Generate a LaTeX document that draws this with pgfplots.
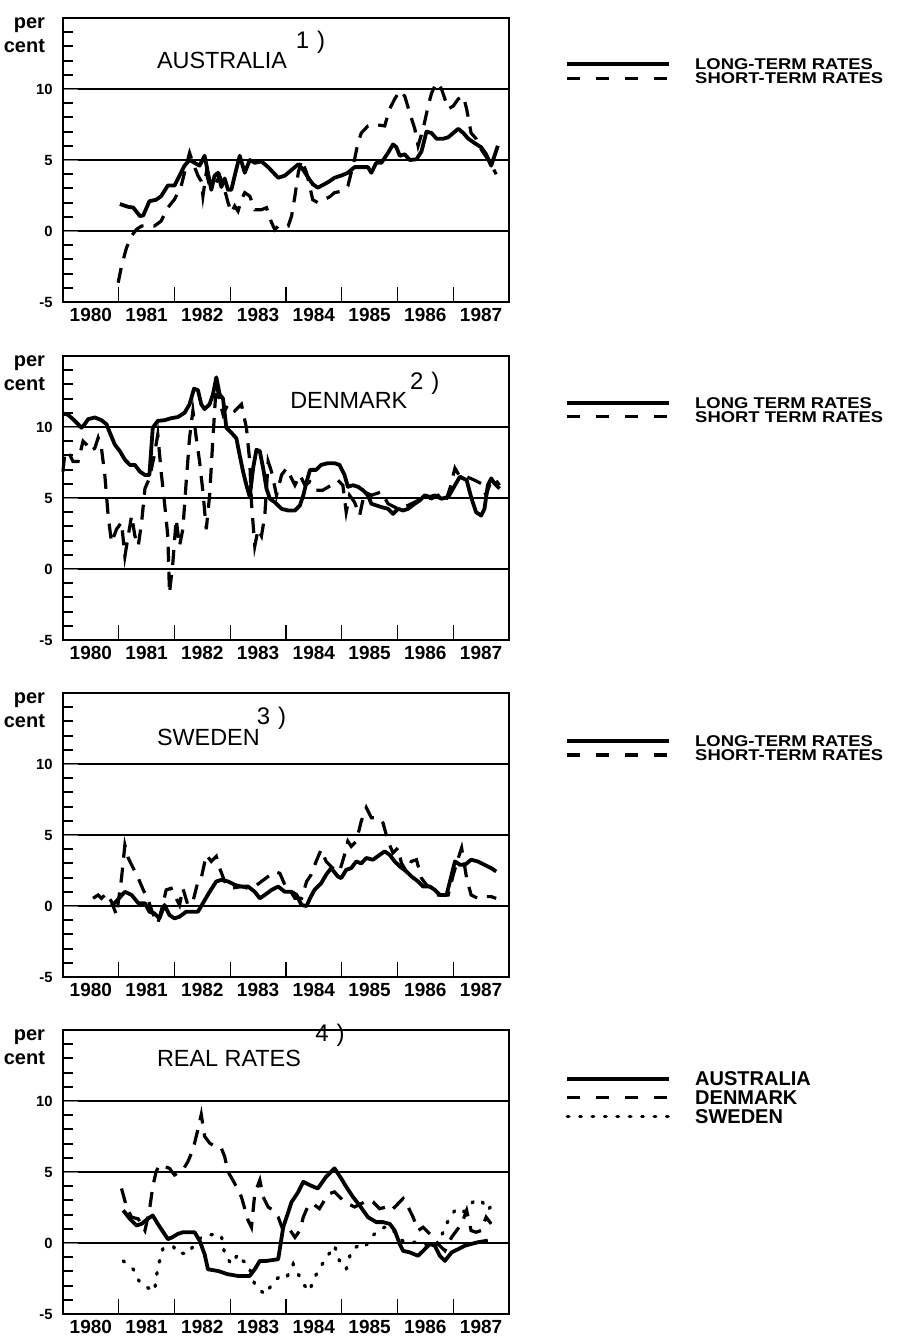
\documentclass[border=0pt]{standalone}
\usepackage{fontspec}
\setmainfont{Liberation Sans}
\usepackage{graphicx}
\usepackage{pgfplots}
\pgfplotsset{compat=1.18}

\pgfplotsset{
  panel/.style={
    scale only axis, width=223pt, height=142pt,
    xmin=1980, xmax=1988, ymin=-5, ymax=15,
    clip=false,
    axis line style={line width=1pt},
    xtick={1980,...,1988}, x tick label as interval,
    xticklabels={1980,1981,1982,1983,1984,1985,1986,1987},
    ytick={-5,0,5,10}, yticklabels={-5,0,5,10},
    minor ytick={-4,-3,-2,-1,1,2,3,4,6,7,8,9,11,12,13,14},
    tick align=inside, xtick pos=bottom, ytick pos=left,
    major tick length=7.5pt, minor tick length=5pt,
    every major x tick/.append style={line width=0.7pt, black},
    every minor y tick/.append style={line width=1pt, black},
    ymajorgrids, major grid style={line width=1.2pt, black},
    xticklabel style={font=\fontsize{9.5}{9.5}\selectfont\bfseries, inner sep=0pt, yshift=-3pt},
    yticklabel style={font=\fontsize{7.4}{7.4}\selectfont\bfseries, inner sep=0pt, xshift=-5pt},
    legend cell align=left,
  },
  leg/.style n args={4}{legend style={at={(1.1256,#1)}, anchor=north west,
    draw=none, fill=none, inner sep=0pt, row sep=#2, column sep=12pt,
    font=\fontsize{#3}{#3}\selectfont\bfseries,
    nodes={inner sep=0pt, anchor=west, text height=#4, text depth=0pt}}},
  legend image code/.code={\draw[#1] (0pt,0pt) -- (51pt,0pt);},
  solidl/.style={black, line width=1.9pt, line join=round},
  dashl/.style={black, line width=1.6pt, dash pattern=on 7.5pt off 5pt,
    legend image code/.code={\draw[##1, dash pattern=on 6.5pt off 8pt] (0pt,0pt) -- (51pt,0pt);}},
  dotl/.style={black, line width=1.7pt, line cap=round, dash pattern=on 0.8pt off 5.4pt},
}
\newcommand{\st}[1]{\scalebox{1.18}[1]{#1}}
\newcommand{\percent}{%
  \node[anchor=base east, xshift=-5.5pt, yshift=-5pt, font=\fontsize{10}{10}\selectfont\bfseries] at (rel axis cs:0,1) {per};
  \node[anchor=base east, xshift=-5.5pt, yshift=-17pt, font=\fontsize{10}{10}\selectfont\bfseries] at (rel axis cs:0,1) {cent};
}
\newcommand{\ttl}[2]{\node[anchor=west, font=\fontsize{11.7}{11.7}\selectfont] at (axis cs:#1) {#2};}
\newcommand{\note}[2]{\node[anchor=west, font=\fontsize{12}{12}\selectfont] at (axis cs:#1) {#2};}

\begin{document}
\begin{tikzpicture}
\path[use as bounding box] (0,0) rectangle (450pt,-669pt);

% ---------------- Australia
\begin{axis}[panel, at={(31.5pt,-151pt)}, anchor=south west, leg={0.858}{1.4pt}{7.8}{5.6pt}]
\addplot[solidl] table {
1981.02 1.9
1981.17 1.7
1981.26 1.65
1981.38 1.05
1981.44 1.1
1981.55 2.1
1981.67 2.2
1981.76 2.45
1981.88 3.2
1982.00 3.2
1982.09 3.9
1982.18 4.6
1982.27 5.0
1982.36 4.8
1982.45 4.6
1982.54 5.3
1982.60 4.1
1982.66 2.9
1982.72 3.9
1982.78 4.1
1982.84 3.1
1982.90 3.7
1982.96 2.9
1983.02 2.9
1983.08 3.9
1983.17 5.3
1983.26 4.1
1983.35 5.0
1983.44 4.8
1983.56 4.9
1983.68 4.5
1983.86 3.75
1983.98 3.9
1984.10 4.3
1984.22 4.7
1984.31 4.3
1984.40 3.75
1984.48 3.3
1984.57 3.05
1984.69 3.3
1984.78 3.5
1984.87 3.75
1984.99 3.9
1985.11 4.1
1985.23 4.5
1985.35 4.5
1985.47 4.5
1985.53 4.1
1985.62 4.8
1985.71 4.8
1985.83 5.5
1985.92 6.1
1985.98 5.9
1986.04 5.3
1986.13 5.4
1986.22 5.0
1986.34 5.05
1986.43 5.6
1986.52 7.0
1986.61 6.9
1986.70 6.5
1986.82 6.5
1986.91 6.6
1987.00 6.9
1987.09 7.2
1987.18 6.9
1987.27 6.5
1987.38 6.2
1987.50 5.9
1987.59 5.4
1987.68 4.6
1987.74 5.3
1987.80 6.0
};
\addplot[dashl] table {
1980.99 -3.64
1981.05 -2.46
1981.14 -1.17
1981.23 -0.35
1981.32 0.12
1981.41 0.35
1981.52 0.4
1981.64 0.35
1981.76 0.7
1981.88 1.64
1982.00 2.23
1982.12 3.17
1982.21 4.58
1982.27 5.5
1982.33 4.8
1982.42 3.9
1982.48 3.5
1982.51 2.46
1982.57 4.1
1982.63 3.2
1982.72 3.2
1982.81 3.9
1982.90 2.9
1982.96 2.0
1983.02 1.3
1983.08 1.76
1983.14 1.4
1983.20 2.2
1983.26 2.7
1983.35 2.46
1983.44 1.5
1983.56 1.5
1983.65 1.64
1983.74 0.6
1983.80 0.1
1983.86 0.35
1984.04 0.35
1984.10 1.05
1984.16 2.46
1984.22 4.1
1984.28 5.0
1984.37 4.1
1984.48 2.2
1984.57 2.0
1984.69 2.23
1984.78 2.4
1984.87 2.7
1984.99 2.8
1985.11 3.17
1985.23 5.05
1985.29 6.2
1985.35 6.9
1985.47 7.4
1985.59 7.5
1985.77 7.4
1985.86 8.6
1985.95 9.3
1986.04 9.86
1986.13 9.5
1986.22 8.3
1986.31 7.2
1986.37 6.0
1986.46 7.2
1986.55 8.8
1986.61 9.7
1986.70 10.45
1986.79 10.0
1986.91 8.6
1987.00 8.8
1987.09 9.3
1987.18 9.5
1987.24 8.6
1987.32 6.9
1987.41 6.5
1987.50 5.75
1987.62 5.05
1987.71 4.46
1987.77 4.0
};
\legend{\st{LONG-TERM RATES}, \st{SHORT-TERM RATES}}
\percent
\ttl{1981.56,12}{AUSTRALIA}
\note{1984.05,13.3}{1\,\,)}
\end{axis}

% ---------------- Denmark
\begin{axis}[panel, at={(31.5pt,-320pt)}, anchor=south west, leg={0.856}{1.2pt}{7.8}{5.6pt}]
\addplot[solidl] table {
1980.00 10.95
1980.09 10.86
1980.18 10.55
1980.27 10.2
1980.33 9.95
1980.39 10.2
1980.45 10.55
1980.57 10.67
1980.69 10.48
1980.78 10.2
1980.84 9.6
1980.93 8.76
1981.02 8.3
1981.11 7.7
1981.20 7.33
1981.29 7.33
1981.38 6.86
1981.47 6.62
1981.55 6.62
1981.61 9.95
1981.70 10.43
1981.82 10.48
1981.94 10.62
1982.06 10.7
1982.18 11.0
1982.27 11.6
1982.35 12.7
1982.42 12.6
1982.48 11.6
1982.54 11.26
1982.63 11.6
1982.69 12.3
1982.75 13.5
1982.81 12.3
1982.87 12.0
1982.93 9.95
1983.02 9.6
1983.11 9.2
1983.17 8.0
1983.23 6.86
1983.29 5.9
1983.35 5.07
1983.41 7.1
1983.47 8.4
1983.53 8.3
1983.59 7.1
1983.65 5.67
1983.71 4.95
1983.80 4.7
1983.92 4.24
1984.04 4.12
1984.16 4.12
1984.25 4.48
1984.31 5.19
1984.37 6.14
1984.43 6.98
1984.54 6.98
1984.63 7.33
1984.75 7.45
1984.87 7.45
1984.96 7.33
1985.05 6.62
1985.11 5.79
1985.20 5.9
1985.29 5.79
1985.38 5.55
1985.47 5.19
1985.53 4.6
1985.62 4.48
1985.71 4.36
1985.83 4.24
1985.92 3.88
1986.01 4.24
1986.10 4.12
1986.19 4.24
1986.31 4.6
1986.40 4.83
1986.49 5.19
1986.58 5.07
1986.67 5.19
1986.79 4.95
1986.91 5.07
1987.03 5.9
1987.12 6.5
1987.24 6.26
1987.32 5.07
1987.41 4.0
1987.50 3.76
1987.56 4.24
1987.62 5.9
1987.68 6.38
1987.74 6.02
1987.83 5.67
};
\addplot[dashl] table {
1980.00 6.86
1980.03 8.05
1980.09 8.3
1980.18 7.57
1980.27 7.57
1980.36 9.0
1980.42 8.76
1980.48 8.3
1980.57 8.5
1980.63 9.24
1980.69 8.5
1980.75 6.62
1980.81 3.76
1980.87 1.86
1980.96 2.8
1981.05 3.29
1981.11 0.9
1981.17 2.33
1981.23 3.76
1981.29 2.33
1981.35 1.62
1981.41 3.29
1981.47 5.67
1981.55 6.38
1981.64 8.05
1981.70 9.48
1981.76 6.86
1981.82 4.7
1981.88 2.33
1981.91 -1.71
1981.97 0.43
1982.03 3.52
1982.09 1.62
1982.15 2.8
1982.21 6.14
1982.27 9.24
1982.33 11.14
1982.39 9.24
1982.45 7.57
1982.51 5.43
1982.57 2.8
1982.63 5.19
1982.69 9.24
1982.75 13.05
1982.81 11.86
1982.87 10.9
1982.96 11.6
1983.08 11.14
1983.20 11.6
1983.29 9.95
1983.35 7.57
1983.38 4.7
1983.44 1.62
1983.50 2.8
1983.56 2.33
1983.62 3.76
1983.68 7.57
1983.74 6.86
1983.83 5.19
1983.92 6.62
1984.01 7.1
1984.07 6.62
1984.16 5.9
1984.25 6.62
1984.34 5.9
1984.43 6.14
1984.54 5.55
1984.66 5.55
1984.81 5.9
1984.93 6.26
1985.02 5.9
1985.08 4.0
1985.14 5.19
1985.23 4.7
1985.32 3.76
1985.41 5.43
1985.53 5.19
1985.71 5.43
1985.83 4.6
1986.01 4.24
1986.19 4.48
1986.37 4.83
1986.49 5.07
1986.61 4.95
1986.73 5.19
1986.85 4.6
1986.94 5.67
1987.03 7.1
1987.12 6.5
1987.24 6.5
1987.38 6.26
1987.50 6.02
1987.59 5.19
1987.65 5.9
1987.74 6.38
1987.83 5.9
};
\legend{\st{LONG TERM RATES}, \st{SHORT TERM RATES}}
\percent
\ttl{1983.95,11.9}{DENMARK}
\note{1986.1,13.1}{2\,\,)}
\end{axis}

% ---------------- Sweden
\begin{axis}[panel, at={(31.5pt,-488.5pt)}, anchor=south west, leg={0.851}{1.2pt}{7.8}{5.6pt}]
\addplot[solidl] table {
1980.87 0
1980.96 0.35
1981.11 1.0
1981.23 0.78
1981.35 0.2
1981.47 0.2
1981.55 -0.4
1981.64 -0.52
1981.73 -0.87
1981.82 0.07
1981.91 -0.64
1982.00 -0.87
1982.09 -0.75
1982.21 -0.4
1982.42 -0.4
1982.51 0.2
1982.63 1.0
1982.75 1.73
1982.84 1.84
1982.96 1.73
1983.08 1.49
1983.20 1.37
1983.32 1.37
1983.44 1.0
1983.53 0.54
1983.62 0.78
1983.74 1.13
1983.86 1.37
1983.98 1.0
1984.10 1.0
1984.19 0.78
1984.28 0.07
1984.37 0
1984.43 0.54
1984.51 1.13
1984.63 1.6
1984.72 2.2
1984.81 2.67
1984.93 2.08
1984.99 1.96
1985.08 2.55
1985.17 2.67
1985.26 3.14
1985.35 3.0
1985.44 3.38
1985.56 3.26
1985.68 3.6
1985.77 3.85
1985.86 3.6
1985.95 3.14
1986.04 2.79
1986.16 2.43
1986.25 2.08
1986.37 1.73
1986.46 1.37
1986.58 1.37
1986.67 1.13
1986.76 0.78
1986.88 0.78
1986.94 1.73
1987.03 3.14
1987.12 2.9
1987.21 2.9
1987.32 3.26
1987.44 3.14
1987.56 2.9
1987.68 2.67
1987.77 2.43
};
\addplot[dashl] table {
1980.54 0.54
1980.63 0.78
1980.69 0.54
1980.78 0.9
1980.87 0.3
1980.96 -0.64
1981.05 1.96
1981.11 4.3
1981.17 3.38
1981.26 2.67
1981.35 1.96
1981.44 1.13
1981.52 0.54
1981.61 -0.52
1981.70 -1.23
1981.79 0.07
1981.85 1.13
1981.94 1.25
1982.03 0.54
1982.09 0.07
1982.15 1.25
1982.24 0.07
1982.33 0.3
1982.42 1.73
1982.48 1.96
1982.57 3.6
1982.66 3.14
1982.75 3.5
1982.81 2.67
1982.90 1.73
1983.02 1.25
1983.20 1.37
1983.32 1.25
1983.44 1.37
1983.56 1.73
1983.68 2.08
1983.80 2.43
1983.89 2.3
1983.98 1.49
1984.07 1.13
1984.16 0.54
1984.28 0.54
1984.37 1.73
1984.45 2.2
1984.54 3.14
1984.63 3.97
1984.72 3.14
1984.84 2.67
1984.96 2.43
1985.05 3.6
1985.11 4.56
1985.17 4.2
1985.26 4.56
1985.35 5.98
1985.44 6.93
1985.53 6.22
1985.65 6.22
1985.74 5.86
1985.83 4.56
1985.92 3.74
1986.01 4.09
1986.07 3.03
1986.16 2.43
1986.25 3.14
1986.34 3.26
1986.43 1.96
1986.52 1.49
1986.61 1.25
1986.67 0.78
1986.79 0.78
1986.91 0.78
1987.00 2.2
1987.09 3.38
1987.15 4.09
1987.24 1.96
1987.32 0.78
1987.44 0.54
1987.56 0.66
1987.68 0.66
1987.77 0.54
};
\legend{\st{LONG-TERM RATES}, \st{SHORT-TERM RATES}}
\percent
\ttl{1981.56,11.9}{SWEDEN}
\note{1983.35,13.2}{3\,\,)}
\end{axis}

% ---------------- Real rates
\begin{axis}[panel, at={(31.5pt,-657pt)}, anchor=south west, leg={0.855}{2.3pt}{10}{7.16pt}]
\addplot[solidl] table {
1981.08 2.3
1981.20 1.7
1981.32 1.23
1981.41 1.35
1981.52 1.7
1981.61 1.94
1981.70 1.35
1981.82 0.64
1981.88 0.28
1981.94 0.36
1982.06 0.64
1982.15 0.76
1982.36 0.76
1982.45 0.17
1982.54 -0.78
1982.60 -1.85
1982.78 -1.97
1982.96 -2.2
1983.14 -2.32
1983.35 -2.32
1983.44 -1.85
1983.53 -1.26
1983.65 -1.26
1983.86 -1.14
1983.95 1.11
1984.10 2.89
1984.22 3.6
1984.31 4.31
1984.43 4.07
1984.57 3.84
1984.72 4.67
1984.87 5.26
1984.99 4.55
1985.08 3.96
1985.20 3.25
1985.32 2.65
1985.47 1.82
1985.62 1.47
1985.74 1.47
1985.86 1.35
1985.95 0.88
1986.04 -0.07
1986.10 -0.55
1986.22 -0.66
1986.37 -0.9
1986.49 -0.43
1986.58 -0.07
1986.67 -0.19
1986.76 -0.9
1986.85 -1.26
1986.97 -0.66
1987.09 -0.43
1987.21 -0.19
1987.32 -0.07
1987.44 0.05
1987.62 0.17
};
\addplot[dashl] table {
1981.05 3.84
1981.14 2.54
1981.23 1.82
1981.35 1.7
1981.47 0.88
1981.55 2.3
1981.61 3.96
1981.67 5.02
1981.73 5.5
1981.82 5.38
1981.91 5.26
1982.00 4.79
1982.15 5.14
1982.24 5.73
1982.33 6.56
1982.42 7.99
1982.48 9.05
1982.54 7.51
1982.63 7.04
1982.72 6.8
1982.84 6.68
1982.90 6.09
1982.96 5.02
1983.08 4.19
1983.20 3.25
1983.32 1.59
1983.38 1.11
1983.44 3.48
1983.53 4.43
1983.59 3.25
1983.68 2.54
1983.77 2.3
1983.86 1.82
1983.95 0.88
1984.04 1.11
1984.16 0.4
1984.25 0.88
1984.31 1.82
1984.40 2.65
1984.48 2.77
1984.60 2.42
1984.69 3.01
1984.78 3.48
1984.87 3.6
1984.96 3.25
1985.02 3.01
1985.11 2.77
1985.23 2.54
1985.35 2.77
1985.47 3.01
1985.56 2.89
1985.68 2.42
1985.80 2.54
1985.89 2.3
1985.98 2.65
1986.10 3.13
1986.19 2.54
1986.28 1.82
1986.37 0.88
1986.46 1.11
1986.55 0.76
1986.64 0.4
1986.73 -0.07
1986.85 -0.55
1986.97 0.4
1987.06 0.88
1987.15 1.35
1987.24 2.3
1987.32 0.88
1987.41 0.76
1987.50 0.88
1987.59 1.82
1987.68 1.35
};
\addplot[dotl] table {
1981.08 -1.26
1981.26 -1.85
1981.38 -2.8
1981.52 -3.15
1981.64 -3.39
1981.70 -1.73
1981.79 -0.43
1981.91 0.4
1982.03 -0.66
1982.24 -0.78
1982.36 -0.07
1982.48 0.4
1982.60 0.52
1982.72 0.64
1982.84 0.52
1982.90 -0.78
1983.02 -1.49
1983.14 -0.78
1983.23 -1.26
1983.32 -1.49
1983.44 -2.91
1983.62 -3.63
1983.77 -2.8
1983.89 -2.32
1984.01 -2.44
1984.13 -1.49
1984.22 -2.2
1984.34 -3.03
1984.42 -3.39
1984.51 -2.44
1984.63 -1.61
1984.75 -0.9
1984.87 -0.19
1984.96 -1.26
1985.08 -1.85
1985.17 -0.55
1985.29 -0.19
1985.41 -0.31
1985.53 0.4
1985.65 0.88
1985.77 1.11
1985.89 1.11
1986.01 0.4
1986.13 0.05
1986.25 0.05
1986.37 0.05
1986.49 -0.07
1986.61 -0.31
1986.73 -0.07
1986.79 0.52
1986.91 1.59
1987.03 2.3
1987.15 2.06
1987.27 2.54
1987.38 3.01
1987.50 3.01
1987.62 2.3
1987.71 2.77
};
\legend{AUSTRALIA, DENMARK, SWEDEN}
\percent
\ttl{1981.56,13.0}{REAL RATES}
\note{1984.4,14.6}{4\,\,)}
\end{axis}
\end{tikzpicture}
\end{document}
